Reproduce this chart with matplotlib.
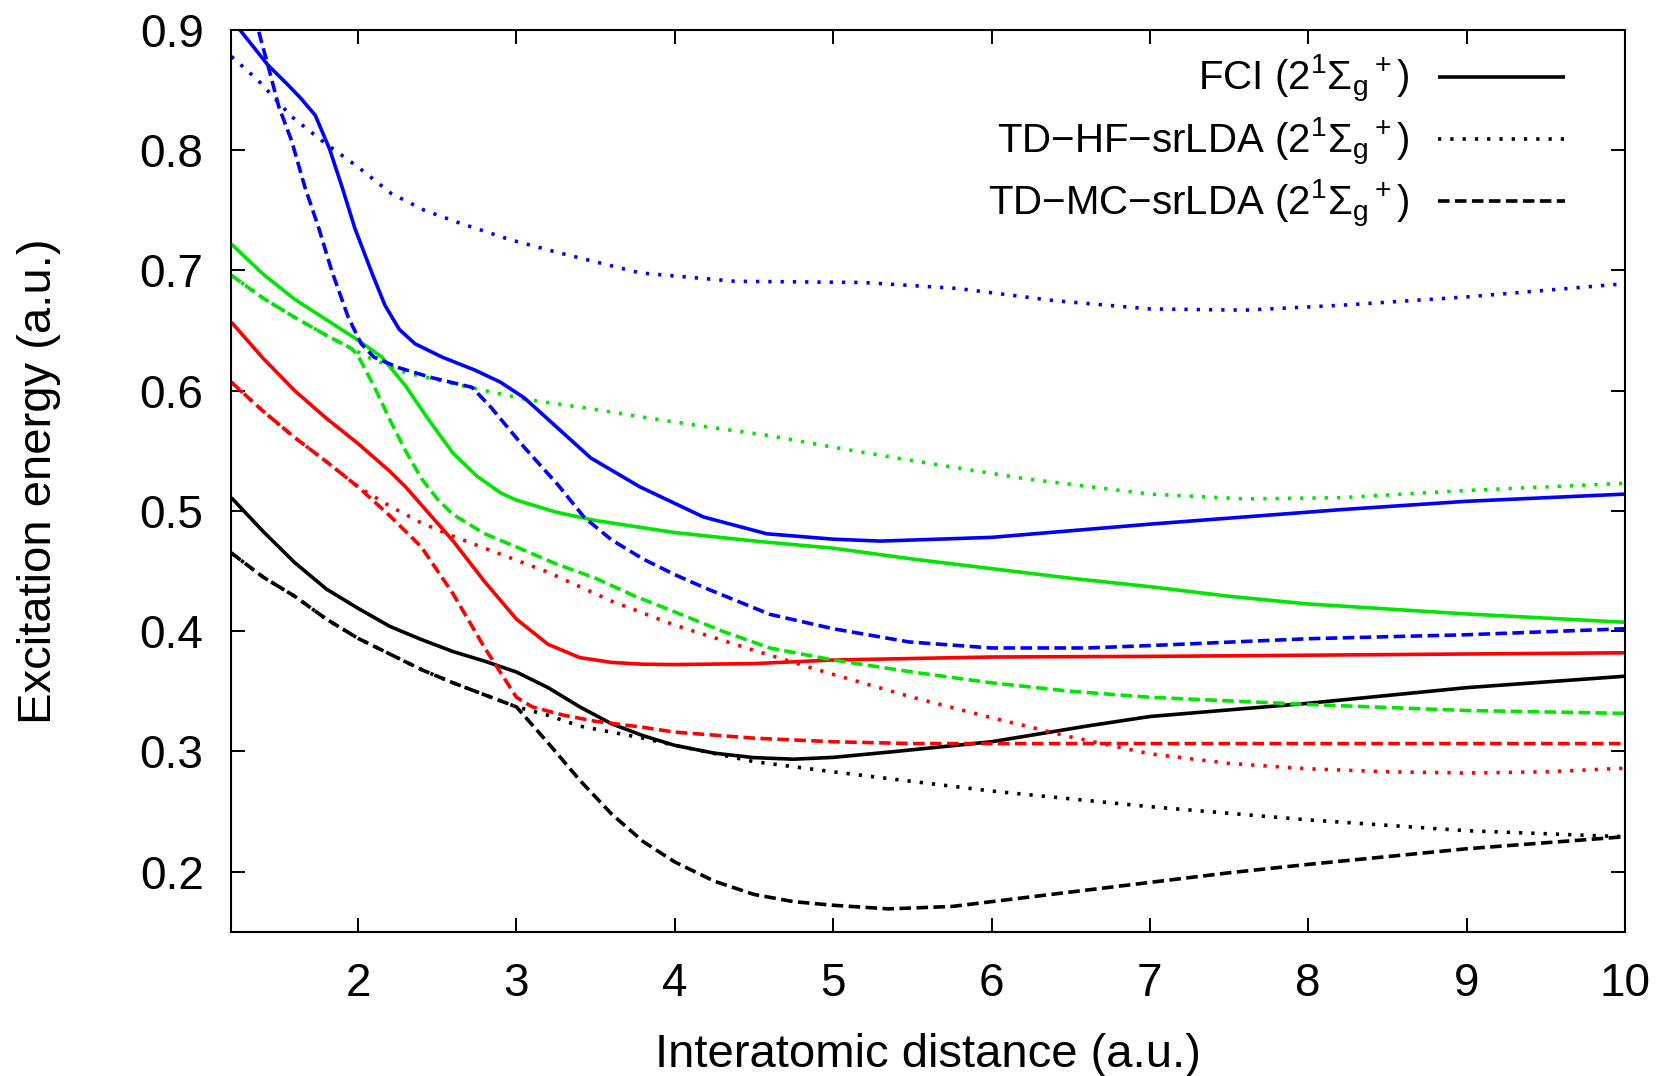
import matplotlib
matplotlib.use("Agg")
import matplotlib.pyplot as plt

plt.rcParams['font.family'] = ['Liberation Sans', 'DejaVu Sans']
plt.rcParams['mathtext.fontset'] = 'custom'
plt.rcParams['mathtext.rm'] = 'Liberation Sans'
plt.rcParams['mathtext.it'] = 'Liberation Sans'
plt.rcParams['mathtext.bf'] = 'Liberation Sans:bold'

# --- black: lowest state ---
r_fci_k = [1.2, 1.4, 1.6, 1.8, 2.0, 2.2, 2.4, 2.6, 2.8, 3.0, 3.2, 3.4, 3.6, 3.8, 4.0,
           4.25, 4.5, 4.75, 5.0, 5.4, 6.0, 6.6, 7.0, 8.0, 9.0, 10.0]
e_fci_k = [0.511, 0.483, 0.457, 0.435, 0.419, 0.404, 0.393, 0.383, 0.375, 0.366, 0.353,
           0.337, 0.323, 0.313, 0.305, 0.2985, 0.2948, 0.2935, 0.295, 0.300, 0.308, 0.321,
           0.329, 0.340, 0.353, 0.3625]
r_hf_k = [1.2, 1.4, 1.6, 1.8, 2.0, 2.2, 2.4, 2.6, 2.8, 3.0, 3.2, 3.4, 3.6, 3.8, 4.0, 4.5,
          5.0, 5.5, 6.0, 7.0, 8.0, 9.0, 10.0]
e_hf_k = [0.465, 0.445, 0.429, 0.410, 0.394, 0.381, 0.368, 0.357, 0.347, 0.337, 0.330,
          0.321, 0.316, 0.311, 0.305, 0.2915, 0.283, 0.275, 0.267, 0.254, 0.243, 0.234, 0.229]
r_mc_k = [1.2, 1.4, 1.6, 1.8, 2.0, 2.2, 2.4, 2.6, 2.8, 3.0, 3.2, 3.4, 3.6, 3.8, 4.0, 4.25,
          4.5, 4.75, 5.0, 5.35, 5.75, 6.0, 6.5, 7.0, 7.5, 8.0, 9.0, 10.0]
e_mc_k = [0.465, 0.445, 0.429, 0.410, 0.394, 0.381, 0.368, 0.357, 0.347, 0.337, 0.307,
          0.276, 0.248, 0.225, 0.208, 0.192, 0.181, 0.175, 0.172, 0.169, 0.171, 0.175,
          0.183, 0.191, 0.199, 0.206, 0.219, 0.229]

# --- red ---
r_fci_r = [1.2, 1.4, 1.6, 1.8, 2.0, 2.2, 2.3, 2.4, 2.6, 2.8, 3.0, 3.2, 3.4, 3.6, 3.8, 4.0,
           4.5, 5.0, 6.0, 7.0, 8.0, 9.0, 10.0]
e_fci_r = [0.657, 0.627, 0.600, 0.577, 0.556, 0.533, 0.520, 0.505, 0.475, 0.441, 0.410,
           0.389, 0.378, 0.374, 0.3725, 0.3722, 0.373, 0.376, 0.3785, 0.379, 0.380, 0.381,
           0.382]
r_hf_r = [1.2, 1.4, 1.6, 1.8, 2.0, 2.2, 2.4, 2.6, 2.8, 3.0, 3.2, 3.4, 3.6, 3.8, 4.0, 4.5,
          5.0, 5.5, 6.0, 6.5, 7.0, 7.5, 8.0, 8.5, 9.0, 9.5, 10.0]
e_hf_r = [0.607, 0.583, 0.561, 0.541, 0.520, 0.504, 0.490, 0.479, 0.469, 0.459, 0.449,
          0.437, 0.425, 0.415, 0.405, 0.384, 0.364, 0.345, 0.328, 0.312, 0.298, 0.290,
          0.2855, 0.283, 0.282, 0.283, 0.286]
r_mc_r = [1.2, 1.4, 1.6, 1.8, 2.0, 2.2, 2.4, 2.6, 2.8, 3.0, 3.1, 3.3, 3.5, 3.8, 4.0, 4.5,
          5.0, 5.5, 6.0, 7.0, 8.0, 10.0]
e_mc_r = [0.607, 0.583, 0.561, 0.541, 0.520, 0.496, 0.470, 0.431, 0.386, 0.345, 0.337,
          0.330, 0.325, 0.320, 0.316, 0.311, 0.308, 0.3065, 0.3065, 0.3065, 0.3065, 0.3065]

# --- green ---
r_fci_g = [1.2, 1.4, 1.6, 1.8, 2.0, 2.15, 2.3, 2.45, 2.6, 2.75, 2.9, 3.0, 3.25, 3.5, 3.8,
           4.0, 4.5, 5.0, 5.5, 6.0, 6.5, 7.0, 7.5, 8.0, 9.0, 10.0]
e_fci_g = [0.722, 0.697, 0.676, 0.659, 0.642, 0.628, 0.604, 0.575, 0.548, 0.529, 0.515,
           0.509, 0.499, 0.492, 0.486, 0.482, 0.475, 0.469, 0.460, 0.452, 0.444, 0.437,
           0.429, 0.4226, 0.4143, 0.4074]
r_hf_g = [1.2, 1.4, 1.6, 1.8, 1.96, 2.06, 2.3, 2.5, 2.7, 3.05, 3.47, 3.8, 4.2, 4.58, 5.0,
          5.4, 6.2, 7.0, 7.6, 8.2, 9.0, 10.0]
e_hf_g = [0.696, 0.677, 0.661, 0.646, 0.635, 0.628, 0.615, 0.609, 0.603, 0.593, 0.585,
          0.578, 0.570, 0.563, 0.553, 0.544, 0.527, 0.514, 0.510, 0.511, 0.517, 0.523]
r_mc_g = [1.2, 1.4, 1.6, 1.8, 1.96, 2.0, 2.1, 2.2, 2.3, 2.4, 2.5, 2.6, 2.8, 3.0, 3.25, 3.5,
          3.75, 4.0, 4.3, 4.6, 5.0, 5.5, 6.0, 6.5, 7.0, 7.5, 8.0, 9.0, 10.0]
e_mc_g = [0.696, 0.677, 0.661, 0.646, 0.635, 0.629, 0.604, 0.576, 0.550, 0.527, 0.510,
          0.497, 0.481, 0.470, 0.456, 0.444, 0.429, 0.416, 0.400, 0.386, 0.376, 0.366,
          0.357, 0.350, 0.345, 0.342, 0.339, 0.334, 0.3316]

# --- blue ---
r_fci_b = [1.2, 1.43, 1.56, 1.64, 1.73, 1.82, 1.9, 1.98, 2.09, 2.17, 2.26, 2.36, 2.53,
           2.74, 2.9, 3.05, 3.26, 3.47, 3.78, 4.18, 4.58, 5.0, 5.3, 6.0, 7.0, 8.2, 9.0, 10.0]
e_fci_b = [0.909, 0.871, 0.854, 0.843, 0.829, 0.801, 0.769, 0.735, 0.697, 0.671, 0.651,
           0.639, 0.628, 0.617, 0.607, 0.594, 0.569, 0.544, 0.520, 0.495, 0.481, 0.4765,
           0.4749, 0.478, 0.489, 0.501, 0.508, 0.514]
r_hf_b = [1.2, 1.37, 1.58, 1.79, 2.0, 2.21, 2.42, 2.63, 2.95, 3.26, 3.78, 4.38, 5.19, 5.79,
          6.39, 7.0, 7.6, 8.2, 9.0, 10.0]
e_hf_b = [0.878, 0.858, 0.828, 0.806, 0.786, 0.764, 0.750, 0.740, 0.726, 0.715, 0.698,
          0.691, 0.690, 0.685, 0.675, 0.668, 0.667, 0.671, 0.678, 0.689]
r_mc_b = [1.2, 1.37, 1.43, 1.5, 1.58, 1.665, 1.75, 1.833, 1.938, 2.02, 2.1, 2.25, 2.46,
          2.72, 2.84, 3.05, 3.26, 3.43, 3.6, 3.8, 4.0, 4.19, 4.6, 5.0, 5.48, 6.0, 6.6, 7.0,
          8.0, 9.0, 10.0]
e_mc_b = [0.985, 0.900, 0.871, 0.836, 0.808, 0.769, 0.736, 0.700, 0.661, 0.639, 0.628,
          0.6194, 0.611, 0.6028, 0.586, 0.5528, 0.522, 0.4944, 0.476, 0.460, 0.447, 0.436,
          0.414, 0.402, 0.391, 0.386, 0.386, 0.388, 0.3937, 0.397, 0.402]

state = r'($2^1\Sigma_\mathrm{g}{}^+$)'
labels = ['FCI ' + state, 'TD\u2212HF\u2212srLDA ' + state, 'TD\u2212MC\u2212srLDA ' + state]

LW = 2.6
DOT = (0, (0.9, 2.5))
DASH = (0, (3.2, 1.5))
GREEN = '#00e600'

fig = plt.figure(figsize=(16.61, 10.76), dpi=100)
ax = fig.add_axes([0.1393, 0.1341, 0.839, 0.838])

series = [
    (r_fci_k, e_fci_k, 'black', '-', labels[0]),
    (r_hf_k, e_hf_k, 'black', DOT, labels[1]),
    (r_mc_k, e_mc_k, 'black', DASH, labels[2]),
    (r_fci_r, e_fci_r, 'red', '-', None),
    (r_hf_r, e_hf_r, 'red', DOT, None),
    (r_mc_r, e_mc_r, 'red', DASH, None),
    (r_fci_g, e_fci_g, GREEN, '-', None),
    (r_hf_g, e_hf_g, GREEN, DOT, None),
    (r_mc_g, e_mc_g, GREEN, DASH, None),
    (r_fci_b, e_fci_b, 'blue', '-', None),
    (r_hf_b, e_hf_b, 'blue', DOT, None),
    (r_mc_b, e_mc_b, 'blue', DASH, None),
]
for r, e, c, ls, lab in series:
    ax.plot(r, e, color=c, linestyle=ls, lw=LW, label=lab,
            dash_capstyle='butt', solid_capstyle='butt', solid_joinstyle='round')

ax.set_xlim(1.2, 10)
ax.set_ylim(0.15, 0.9)
ax.set_xticks([2, 3, 4, 5, 6, 7, 8, 9, 10])
ax.set_yticks([0.2, 0.3, 0.4, 0.5, 0.6, 0.7, 0.8, 0.9])
ax.set_yticklabels(['0.2', '0.3', '0.4', '0.5', '0.6', '0.7', '0.8', '0.9'])
ax.tick_params(direction='in', length=10, width=1.4, top=True, right=True, labelsize=33)
ax.tick_params(axis='x', pad=22)
ax.tick_params(axis='y', pad=20)
for s in ax.spines.values():
    s.set_linewidth(1.5)

ax.set_xlabel('Interatomic distance (a.u.)', fontsize=34)
ax.set_ylabel('Excitation energy (a.u.)', fontsize=34)
ax.xaxis.set_label_coords(0.5, -0.112)
ax.yaxis.set_label_coords(-0.122, 0.5)

ax.legend(loc='upper right', bbox_to_anchor=(0.957, 0.974), frameon=False,
          markerfirst=False, fontsize=29, handlelength=3.15, handletextpad=0.72,
          labelspacing=0.25, borderpad=0, borderaxespad=0)

fig.savefig('out.png', dpi=100)
